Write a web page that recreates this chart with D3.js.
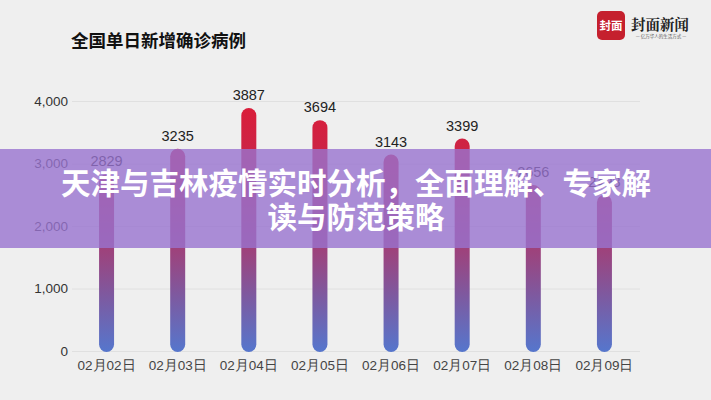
<!DOCTYPE html>
<html><head><meta charset="utf-8">
<script src="https://cdn.jsdelivr.net/npm/d3@7"></script>
<style>
html,body{margin:0;padding:0;background:#efefef;}
svg{display:block;font-family:"Noto Sans CJK SC","Noto Sans",sans-serif;}
</style></head>
<body><svg id="c" width="711" height="400"></svg>
<script>
const categories = ["02月02日","02月03日","02月04日","02月05日","02月06日","02月07日","02月08日","02月09日"];
const values = [2829, 3235, 3887, 3694, 3143, 3399, 2656, 2498];
const yTicks = [0, 1000, 2000, 3000, 4000];
const title = "全国单日新增确诊病例";
const overlayLines = ["天津与吉林疫情实时分析，全面理解、专家解", "读与防范策略"];

const svg = d3.select("#c");
svg.append("rect").attr("width",711).attr("height",400).attr("fill","#efefef");

const x = d3.scaleBand().domain(categories).range([71, 640]).paddingInner(0).paddingOuter(0);
const y = d3.scaleLinear().domain([0, 4000]).range([351, 101]);

const defs = svg.append("defs");
const grad = defs.append("linearGradient").attr("id","bg").attr("gradientUnits","userSpaceOnUse")
  .attr("x1",0).attr("x2",0).attr("y1",y(4000)).attr("y2",y(0));
grad.append("stop").attr("offset","0%").attr("stop-color","#dc1c38");
grad.append("stop").attr("offset","35%").attr("stop-color","#c02a50");
grad.append("stop").attr("offset","62%").attr("stop-color","#9a4580");
grad.append("stop").attr("offset","100%").attr("stop-color","#5676cc");

// grid
svg.append("g").selectAll("line").data(yTicks).join("line")
  .attr("x1",72).attr("x2",640).attr("y1",d=>y(d)+0.5).attr("y2",d=>y(d)+0.5)
  .attr("stroke","#e0e0e0").attr("stroke-width",1);

// y axis labels
const yAxis = d3.axisLeft(y).tickValues(yTicks).tickFormat(d3.format(",")).tickSize(0).tickPadding(0);
const ya = svg.append("g").attr("transform","translate(68,0)").call(yAxis);
ya.select(".domain").remove();
ya.selectAll("text").attr("font-size",13.5).attr("fill","#333").attr("font-family","Liberation Sans, Arial, sans-serif");

// x axis labels
const xAxis = d3.axisBottom(x).tickSize(0).tickPadding(0);
const xa = svg.append("g").attr("transform","translate(0,360)").call(xAxis);
xa.select(".domain").remove();
xa.selectAll("text").attr("font-size",13.5).attr("fill","#444");

// bars
const bw = 15;
svg.append("g").selectAll("rect").data(values).join("rect")
  .attr("x",(d,i)=>x(categories[i])+x.bandwidth()/2-bw/2)
  .attr("y",d=>y(d))
  .attr("width",bw)
  .attr("height",d=>y(0)-y(d)+1)
  .attr("rx",bw/2).attr("ry",bw/2)
  .attr("fill","url(#bg)");

// value labels
svg.append("g").selectAll("text").data(values).join("text")
  .attr("x",(d,i)=>x(categories[i])+x.bandwidth()/2)
  .attr("y",d=>y(d)-8)
  .attr("text-anchor","middle")
  .attr("font-size",14.5).attr("fill","#222")
  .attr("font-family","Liberation Sans, Arial, sans-serif")
  .text(d=>d);

// title
svg.append("text").attr("x",71).attr("y",47).attr("font-size",17.5).attr("font-weight","bold")
  .attr("fill","#111").text(title);

// logo
const lg = svg.append("g");
lg.append("rect").attr("x",597).attr("y",11).attr("width",28).attr("height",29).attr("rx",5).attr("fill","#c5202e");
lg.append("text").attr("x",611).attr("y",30).attr("text-anchor","middle").attr("font-size",11.5)
  .attr("font-weight","bold").attr("fill","#fff").text("封面");
lg.append("text").attr("x",631).attr("y",30).attr("font-size",14.5).attr("font-weight","bold")
  .attr("fill","#222").attr("font-family","Noto Serif CJK SC, Noto Sans CJK SC, serif").text("封面新闻");
lg.append("text").attr("x",661).attr("y",38).attr("text-anchor","middle").attr("font-size",4.5)
  .attr("fill","#555").text("— 亿万华人的生活方式 —");

// overlay band
svg.append("rect").attr("x",0).attr("y",149).attr("width",711).attr("height",99)
  .attr("fill","rgba(152,115,208,0.8)");
svg.append("g").selectAll("text").data(overlayLines).join("text")
  .attr("x",356).attr("y",(d,i)=>194+i*34)
  .attr("text-anchor","middle").attr("font-size",29.5).attr("font-weight","bold")
  .attr("fill","#fff").text(d=>d);
</script></body></html>
